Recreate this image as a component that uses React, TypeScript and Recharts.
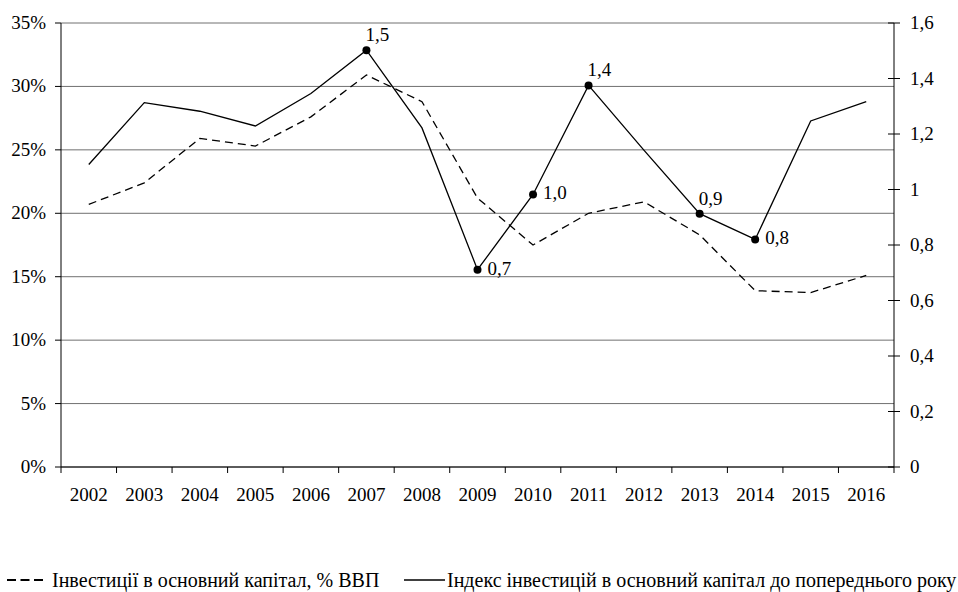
import { CartesianGrid, Line, LineChart, XAxis, YAxis } from "recharts";

const years = ["2002", "2003", "2004", "2005", "2006", "2007", "2008", "2009", "2010", "2011", "2012", "2013", "2014", "2015", "2016"];
// Інвестиції в основний капітал, % ВВП (left axis)
const gdpShare = [20.7, 22.4, 25.9, 25.3, 27.6, 30.9, 28.8, 21.2, 17.5, 20.0, 20.9, 18.3, 13.9, 13.75, 15.1];
// Індекс інвестицій до попереднього року (right axis)
const indexPrev = [1.09, 1.313, 1.282, 1.229, 1.346, 1.502, 1.222, 0.711, 0.982, 1.375, 1.141, 0.913, 0.82, 1.247, 1.317];
const pointLabels = ["", "", "", "", "", "1,5", "", "0,7", "1,0", "1,4", "", "0,9", "0,8", "", ""];
const labelSide = ["", "", "", "", "", "top", "", "right", "right", "top", "", "top", "right", "", ""];

const leftTicks = [0, 5, 10, 15, 20, 25, 30, 35];
const rightTicks = [0, 0.2, 0.4, 0.6, 0.8, 1, 1.2, 1.4, 1.6];

const data = years.map((y, i) => ({ idx: i, year: y, gdp: gdpShare[i], index: indexPrev[i] }));
const xTicks: number[] = [];
for (let i = 0; i < years.length; i++) xTicks.push(i - 0.5, i);
xTicks.push(years.length - 0.5);

const FONT = "Liberation Serif";
const FS = 19;
const txt = { fontFamily: FONT, fontSize: FS };
const legendTxt = { fontFamily: FONT, fontSize: 20 };

const fmtRight = (v: number) => (v === 0 || v === 1 ? String(v) : v.toFixed(1).replace(".", ","));

function XTick(props: any) {
  const { x, y, payload } = props;
  const v = payload.value as number;
  if (!Number.isInteger(v)) {
    return <line x1={x} x2={x} y1={y} y2={y + 6} stroke="#000" strokeWidth={1} />;
  }
  return (
    <text x={x} y={y + 34} textAnchor="middle" style={txt} fill="#000">
      {years[v]}
    </text>
  );
}

function LeftTick(props: any) {
  const { x, y, payload } = props;
  return (
    <g>
      <line x1={x - 6} x2={x} y1={y} y2={y} stroke="#000" />
      <text x={x - 15} y={y + 6} textAnchor="end" style={txt} fill="#000">
        {`${payload.value}%`}
      </text>
    </g>
  );
}

function RightTick(props: any) {
  const { x, y, payload } = props;
  return (
    <g>
      <line x1={x - 6} x2={x + 6} y1={y} y2={y} stroke="#000" />
      <text x={x + 16} y={y + 6} textAnchor="start" style={txt} fill="#000">
        {fmtRight(payload.value)}
      </text>
    </g>
  );
}

function IndexDot(props: any) {
  const { cx, cy, index } = props;
  const label = pointLabels[index];
  if (!label) return <g key={`d${index}`} />;
  const top = labelSide[index] === "top";
  return (
    <g key={`d${index}`}>
      <circle cx={cx} cy={cy} r={4} fill="#000" />
      <text x={top ? cx - 1 : cx + 10} y={top ? cy - 9 : cy + 5} style={txt} fill="#000">
        {label}
      </text>
    </g>
  );
}

export default function App() {
  return (
    <div style={{ position: "absolute", left: 0, top: 0, width: 958, height: 592, background: "#fff", fontFamily: FONT }}>
      <LineChart width={958} height={592} data={data} margin={{ top: 23, right: 0, bottom: 80, left: 0 }}>
        <CartesianGrid vertical={false} stroke="#707070" yAxisId="left" />
        <XAxis
          dataKey="idx"
          type="number"
          domain={[-0.5, years.length - 0.5]}
          ticks={xTicks}
          interval={0}
          height={45}
          tickSize={0}
          tickMargin={0}
          tickLine={false}
          tick={<XTick />}
          axisLine={{ stroke: "#000" }}
        />
        <YAxis
          yAxisId="left"
          orientation="left"
          width={61}
          domain={[0, 35]}
          ticks={leftTicks}
          interval={0}
          tickSize={0}
          tickMargin={0}
          tickLine={false}
          tick={<LeftTick />}
          axisLine={{ stroke: "#000" }}
        />
        <YAxis
          yAxisId="right"
          orientation="right"
          width={64}
          domain={[0, 1.6]}
          ticks={rightTicks}
          interval={0}
          tickSize={0}
          tickMargin={0}
          tickLine={false}
          tick={<RightTick />}
          axisLine={{ stroke: "#000" }}
        />
        <Line
          yAxisId="left"
          dataKey="gdp"
          type="linear"
          stroke="#000"
          strokeWidth={1.3}
          strokeDasharray="8 5"
          dot={false}
          activeDot={false}
          isAnimationActive={false}
        />
        <Line
          yAxisId="right"
          dataKey="index"
          type="linear"
          stroke="#000"
          strokeWidth={1.3}
          dot={IndexDot}
          activeDot={false}
          isAnimationActive={false}
        />
      </LineChart>
      <svg width={958} height={40} style={{ position: "absolute", left: 0, top: 552 }}>
        <line x1={7} x2={45} y1={28} y2={28} stroke="#000" strokeWidth={2} strokeDasharray="9 4.5" />
        <text x={52} y={35} style={legendTxt} fill="#000">
          Інвестиції в основний капітал, % ВВП
        </text>
        <line x1={404} x2={445} y1={28} y2={28} stroke="#000" strokeWidth={1.3} />
        <text x={447} y={35} style={legendTxt} fill="#000">
          Індекс інвестицій в основний капітал до попереднього року
        </text>
      </svg>
    </div>
  );
}
